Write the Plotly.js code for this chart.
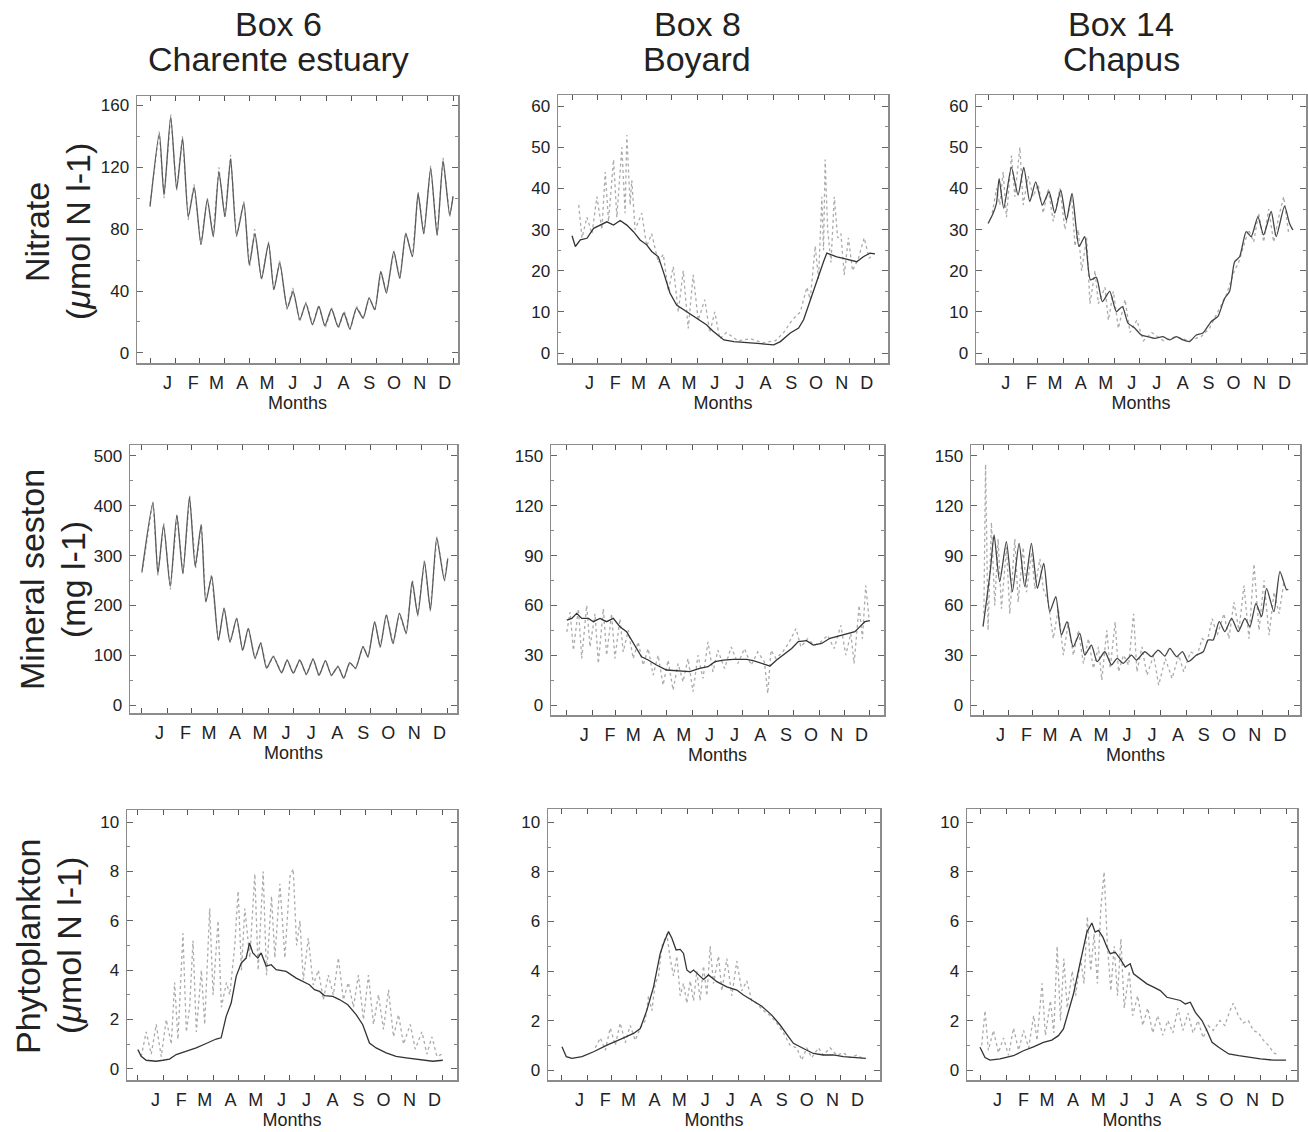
<!DOCTYPE html>
<html>
<head>
<meta charset="utf-8">
<script src="https://cdn.plot.ly/plotly-3.0.1.min.js"></script>
<style>html,body{margin:0;padding:0;background:#fff;}#chart{width:1308px;height:1132px;}</style>
</head>
<body>
<div id="chart"></div>
<script>
// ---------- shared axis labels ----------
const monthLabels = ['J','F','M','A','M','J','J','A','S','O','N','D'];
const monthLabelDays = [21,52,80,111,141,172,202,233,264,294,325,355];
const monthStartDays = [0,31,59,90,120,151,181,212,243,273,304,334,365];
const columnTitles = [['Box 6','Charente estuary'],['Box 8','Boyard'],['Box 14','Chapus']];
const rowTitles = [['Nitrate','(<i>μ</i>mol N l-1)'],['Mineral seston','(mg l-1)'],['Phytoplankton','(<i>μ</i>mol N l-1)']];
const xTitle = 'Months';
const yTicksNitrate6 = [0,40,80,120,160];
const yTicksNitrate = [0,10,20,30,40,50,60];
const yTicksSeston6 = [0,100,200,300,400,500];
const yTicksSeston = [0,30,60,90,120,150];
const yTicksPhyto = [0,2,4,6,8,10];

// ---------- Nitrate, Box 6 ----------
const nitrate6ModelDay = [0,11.2,16.8,24.9,32.1,39.3,46.1,53.3,61.4,69,76.2,83,90.3,97.1,104.3,113.1,119.5,126.4,134.4,142.8,149.2,156.4,165.3,172.5,180.5,187.7,195.7,203.4,210.6,218.6,226.6,233.5,240.7,248.7,256.7,263.9,270.8,278,284.8,293.6,300.8,308.1,316.1,322.9,329.7,338.1,345.8,353,361,365];
const nitrate6Model = [94.5,141.7,102,152.5,106,138.5,88,107,70,99,75,117,88,125.6,76,96.6,57,77,48,71,41,58,29,39.7,21.5,31.8,18.3,30,17.6,28.4,16.8,25.8,15.5,29,22.5,35.4,28,52.6,38.7,65.5,48.3,77,62.3,103,77,119,76,124,89,101];
const nitrate6ObsDay = [0,11,17,25,32,39,46,53,61,69,76,83,90,97,104,113,120,126,134,143,149,156,165,172,180,188,196,203,211,219,227,234,241,249,257,264,271,278,285,294,301,308,316,323,330,338,346,353,361,365];
const nitrate6Obs = [96,143,100,154,105,140,86,109,70,100,77,120,87,128,75,98,56,80,47,72,40,60,28,42,20,33,18,31,16,29,16,27,15,30,22,36,27,52,40,66,48,78,62,104,77,121,76,126,88,102];

// ---------- Nitrate, Box 8 ----------
const nitrate8ModelDay = [0,4,10,18,26,34,42,50,58,66,74,82,90,96,104,110,118,126,138,150,162,170,183,195,211,227,243,251,263,273,279,287,295,303,307,313,319,327,335,343,351,359,365];
const nitrate8Model = [28.5,25.9,27.5,27.9,30.3,31.1,31.9,31.1,32.2,31.1,29.5,27.5,26.3,24.7,23.4,19.8,14.6,11.7,10.1,8.7,6.9,5.3,3.2,2.8,2.6,2.3,2.0,2.8,4.9,6.1,8.1,12.9,17.8,22.2,24.3,23.8,23.4,23.0,22.6,22.2,23.4,24.3,24.1];
const nitrate8ObsDay = [8,12,18,24,30,36,40,44,50,54,60,64,66,70,72,76,84,90,96,104,110,116,122,128,134,140,146,152,160,166,172,178,186,200,215,230,245,255,265,275,283,287,293,297,301,303,305,308,312,316,320,324,328,333,338,345,352,358,362];
const nitrate8Obs = [36,28,33,29,38,30,44,32,47,33,50,34,53,36,42,30,34,26,29,22,24,15,21,10,20,6,19,8,13,5,10,3.5,5,3,3.5,2.5,3,5,8,10,16,13,26,18,38,25,47,30,22,38,28,29,19,28,20,23,28,23,24];

// ---------- Nitrate, Box 14 ----------
const nitrate14ModelDay = [0,6,10,13.2,18.7,27.9,35.9,42.7,49.9,57,65,73,79.8,87,93.7,100.5,108.9,115.7,122.5,129.6,136.8,145.6,153.6,160.8,167.5,175.5,183.5,191.5,199.4,209.4,217.4,225.4,233.3,241.3,249.3,257.3,267.3,275.2,283.2,289.2,295.2,301.2,309.1,315.1,323.1,329.9,339,345,355,361,365];
const nitrate14Model = [31.5,34,36.4,42.4,35.2,45.1,38.4,45.1,36.8,41.6,36,39.2,34,39.6,32.3,38.8,25.9,28.3,17.8,18.4,12.5,15,10.1,11.3,7.3,6.1,4.4,4.0,3.6,4.0,3.2,4.0,3.2,2.8,4.4,4.9,7.7,8.9,13.3,15,22.2,23.4,29.5,28.3,33.1,28.7,34.4,28.3,35.7,31.5,29.9];
const nitrate14ObsDay = [5,10,14,18,22,28,32,38,42,48,54,60,66,72,78,86,92,100,104,108,112,118,122,128,132,140,144,150,156,164,170,178,186,196,210,225,240,255,265,275,285,295,300,306,312,318,324,330,336,342,348,354,360];
const nitrate14Obs = [34,40,36,44,33,48,38,50,36,43,38,41,34,40,32,40,30,38,26,30,20,28,12,20,12,16,8,15,6,13,5,8,3,5,3,4,3,4,6,10,14,20,22,26,30,27,34,27,35,27,33,38,29];

// ---------- Mineral seston, Box 6 ----------
const seston6ModelDay = [0,13.1,19,25.8,33.7,41.6,48.8,56.7,63.5,70.6,76.2,83.3,91.2,98,105.1,113,120.2,126.9,134.9,141.6,148.7,156.7,166.6,173.3,180.5,188.4,196.3,204.3,211.4,219,226.1,234,240.8,247.9,255,263.8,269.7,277.7,284.4,291.6,299.5,307.4,315.4,322.5,329.2,337.2,344.3,351.8,360.9,365];
const seston6Model = [268,406,264,361,238,381,264,418,278,361,207,258,130,194,127,174,110,154,94,124,74,97,65,90,64,90,62,92,60,89,60,77,54,85,74,117,97,167,117,181,124,184,144,248,181,288,191,335,251,294];
const seston6ObsDay = [0,13,19,26,34,42,49,57,64,71,76,83,91,98,105,113,120,127,135,142,149,157,167,173,181,188,196,204,211,219,226,234,241,248,255,264,270,278,284,292,300,307,315,323,329,337,344,352,361,365];
const seston6Obs = [265,408,260,365,232,383,262,420,275,364,205,262,128,196,125,176,108,156,92,126,72,99,63,92,62,92,60,94,58,90,58,79,52,86,72,118,95,168,115,183,122,185,142,250,178,290,188,338,248,296];

// ---------- Mineral seston, Box 8 ----------
const seston8ModelDay = [0,6,12,18,26,32,40,48,56,64,72,80,90,98,108,120,132,148,160,170,178.5,188.5,200.6,216.6,224.6,234.7,244.7,252.7,262.7,270.8,278.8,288.8,296.8,306.9,316.9,326.9,337,347,353,359,365];
const seston8Model = [51.2,52.2,55.2,52.2,52.2,50.2,52.2,50.2,52.2,47.2,44.2,37.1,29.1,27.1,24.1,21.1,20.7,20.1,22.1,23.1,26.1,27.1,27.5,27.5,26.7,25.1,23.5,27.1,31.1,34.1,38.2,38.8,36.1,37.1,40.2,41.6,43.2,44.2,47.2,50.2,50.8];
const seston8ObsDay = [0,4,8,14,18,24,28,34,38,44,48,54,58,64,68,74,80,86,92,98,104,110,116,122,128,134,140,146,152,158,164,170,176,182,190,198,206,214,222,230,238,242,246,252,260,268,276,282,290,298,306,314,322,330,336,342,346,352,356,360,364];
const seston8Obs = [44,56,33,58,28,60,35,55,25,58,30,55,28,52,32,45,28,38,24,34,18,30,12,27,9,25,14,28,8,30,16,38,20,33,22,35,25,34,24,32,26,7,33,28,32,38,46,35,40,36,38,42,34,48,30,43,25,60,40,72,52];

// ---------- Mineral seston, Box 14 ----------
const seston14ModelDay = [0,4.8,8.8,13.2,19.9,27.9,35.1,43.1,49.9,57.8,65,72.6,79.8,87,93.7,100.5,107.7,115.7,121.7,129.6,136.4,145.6,153.6,160.4,167.5,177.5,183.5,193.5,201.4,209.4,217.4,223.4,231.4,238.5,245.3,255.3,263.3,269.2,275.2,282.4,289.2,297.2,305.1,313.1,319.1,326.3,333.1,339,347.8,355,363,365];
const seston14Model = [47.2,65.3,81.3,102.4,74.3,98.4,68.3,97.4,71.3,97.4,70.3,85.3,56.2,65.3,42.2,50.2,35.1,43.2,30.1,36.1,26.1,32.1,24.1,28.1,25.1,30.1,27.1,32.1,29.1,33.1,29.5,34.1,29.1,32.1,26.1,30.1,32.1,39.2,39.2,50.2,44.2,52.2,44.2,52.2,47.2,61.2,53.2,70.3,56.2,80.3,69.3,69.7];
const seston14ObsDay = [1,3,6,10,14,18,22,28,32,38,42,48,52,58,62,68,72,78,84,90,96,102,108,114,120,126,132,138,142,148,152,158,162,168,174,180,184,190,196,204,210,218,226,234,240,248,256,262,268,274,280,288,294,300,306,312,318,324,330,336,342,348,354,360];
const seston14Obs = [55,145,45,110,60,100,58,95,55,100,62,95,68,92,70,88,70,62,40,58,30,50,30,45,25,40,22,35,15,45,22,50,20,30,24,55,20,35,18,30,12,28,16,30,20,32,30,40,38,52,42,55,40,62,45,72,40,85,45,75,42,68,55,75];

// ---------- Phytoplankton, Box 6 ----------
const phyto6ModelDay = [0,4,10,21.9,29.9,37.9,45.9,57.8,69.8,81.8,93.7,99.7,105.7,111.7,117.7,123.7,129.6,133.6,137.6,143.6,147.6,153.6,159.6,165.5,177.5,189.5,197.4,205.4,211.4,217.4,223.4,233.3,241.3,251.3,261.3,269.2,277.2,285.2,297.2,309.1,321.1,333.1,345,353,365];
const phyto6Model = [0.78,0.51,0.35,0.31,0.35,0.40,0.58,0.72,0.85,1.03,1.21,1.26,2.13,2.67,3.75,4.29,4.49,5.10,4.70,4.49,4.70,4.16,4.22,4.02,3.95,3.68,3.55,3.41,3.21,3.14,2.97,2.94,2.81,2.60,2.20,1.79,1.05,0.85,0.65,0.51,0.45,0.40,0.35,0.31,0.35];
const phyto6ObsDay = [4,10,16,22,28,34,40,44,48,54,58,62,66,70,76,80,86,90,96,100,106,110,116,120,124,128,134,140,144,150,154,160,164,170,176,182,186,190,194,198,204,210,216,222,228,234,240,246,252,258,264,270,276,282,288,294,300,306,312,318,326,332,340,346,352,358,364];
const phyto6Obs = [0.5,1.5,0.6,1.8,0.5,2.0,1.0,3.5,1.2,5.5,1.5,2.5,5.2,1.5,4.0,1.8,6.5,3.0,6.0,2.5,3.5,3.0,5.0,7.2,4.0,6.5,4.5,7.9,4.0,8.0,3.8,7.0,4.5,7.5,4.5,7.8,8.1,5.0,6.0,3.6,5.3,3.4,4.0,2.8,3.8,3.0,4.5,2.8,3.5,2.5,3.8,2.0,3.8,1.8,3.0,1.6,3.2,1.3,2.2,1.0,1.8,0.8,1.5,0.6,1.3,0.5,0.6];

// ---------- Phytoplankton, Box 8 ----------
const phyto8ModelDay = [0,5.2,12,24,38,54,70,86,94,102,110,118,122.8,128,132,137.1,142,146,150,154,158,164,170,176,186,198,210,218,228,240,252,262,272,278,290,302,314,326,338,352,365];
const phyto8Model = [0.94,0.54,0.47,0.54,0.74,1.01,1.24,1.48,1.68,2.42,3.36,4.71,5.18,5.59,5.32,4.85,4.87,4.71,4.04,3.93,4.04,3.84,3.66,3.84,3.57,3.36,3.23,3.03,2.83,2.58,2.22,1.82,1.35,1.08,0.87,0.67,0.61,0.61,0.54,0.51,0.47];
const phyto8ObsDay = [40,46,52,58,64,70,76,82,88,94,100,104,108,112,116,120,126,130,134,138,142,146,150,154,158,162,166,170,174,178,182,188,192,198,204,210,216,222,228,234,242,250,258,266,274,282,288,294,300,308,314,322,330,338,346,354,360];
const phyto8Obs = [0.9,1.3,0.8,1.7,1.0,1.9,1.1,1.8,1.2,1.7,2.0,3.0,2.4,3.5,3.8,5.0,5.5,4.5,3.8,4.6,3.0,3.5,2.7,3.6,2.8,4.0,2.8,4.2,3.0,5.0,3.5,4.6,3.2,4.5,3.0,4.4,3.2,3.6,2.8,2.7,2.4,2.2,1.9,1.5,1.0,0.9,0.4,0.9,0.5,0.9,0.6,0.9,0.6,0.7,0.5,0.6,0.5];

// ---------- Phytoplankton, Box 14 ----------
const phyto14ModelDay = [0,6,11.9,23.9,39.8,51.8,63.7,75.6,85.6,93.5,99.5,105.5,111.5,117.4,122.6,127.4,133.4,137.3,141.3,146.5,151.3,155.3,161.2,167.2,173.2,179.1,183.1,191.1,199,207,215,222.9,230.9,238.9,244.8,250.8,256.8,264.7,270.7,276.7,284.6,296.6,308.5,320.5,334.4,350.3,365];
const phyto14Model = [0.92,0.51,0.40,0.45,0.58,0.78,0.94,1.12,1.21,1.39,1.66,2.33,3.08,4.02,4.90,5.57,5.94,5.57,5.64,5.37,4.97,4.70,4.76,4.49,4.16,4.29,3.89,3.68,3.48,3.35,3.21,2.94,2.87,2.81,2.67,2.74,2.33,2.00,1.59,1.12,0.92,0.65,0.58,0.51,0.45,0.40,0.40];
const phyto14ObsDay = [2,6,10,16,22,28,34,40,46,52,58,64,68,74,78,84,88,92,96,100,104,110,114,120,124,128,132,136,140,144,148,152,156,160,164,168,172,178,182,188,194,200,206,212,218,224,230,236,242,248,254,260,266,272,278,286,292,298,302,308,314,320,326,332,338,344,350,356];
const phyto14Obs = [1.0,2.4,0.8,1.6,0.7,1.3,0.6,1.7,0.8,1.6,0.9,2.2,1.2,3.5,1.4,2.8,1.5,5.0,2.0,4.5,2.5,4.0,3.0,4.5,3.5,6.2,4.0,5.5,3.5,6.5,8.0,5.0,3.2,5.0,3.0,5.3,2.5,4.0,2.2,3.0,1.8,2.5,1.5,2.2,1.4,2.0,1.5,2.5,1.6,2.3,1.5,2.0,1.3,1.8,1.6,2.0,1.8,2.4,2.7,2.2,1.9,2.0,1.6,1.5,1.2,1.0,0.7,0.6];

// ---------- figure assembly ----------
const W = 1308, H = 1132;
const FONT = 'Liberation Sans, Arial, Helvetica, sans-serif';

const panels = [
  {md:nitrate6ModelDay, m:nitrate6Model, od:nitrate6ObsDay, o:nitrate6Obs, box:[137,458,96,363], xr:[-15.7,371], yr:[-6.5,166], yt:yTicksNitrate6, ymin:20, spline:true, mc:'#5a5a5a'},
  {md:nitrate8ModelDay, m:nitrate8Model, od:nitrate8ObsDay, o:nitrate8Obs, box:[558,888,95,363], xr:[-16.9,380.7], yr:[-2.4,62.7], yt:yTicksNitrate, ymin:5, spline:false, mc:'#333'},
  {md:nitrate14ModelDay, m:nitrate14Model, od:nitrate14ObsDay, o:nitrate14Obs, box:[976,1306,95,363], xr:[-14.5,380.7], yr:[-2.4,62.7], yt:yTicksNitrate, ymin:5, spline:true, mc:'#444'},
  {md:seston6ModelDay, m:seston6Model, od:seston6ObsDay, o:seston6Obs, box:[130,457,445,713], xr:[-14.3,376], yr:[-16,522], yt:yTicksSeston6, ymin:50, spline:true, mc:'#5a5a5a'},
  {md:seston8ModelDay, m:seston8Model, od:seston8ObsDay, o:seston8Obs, box:[551,884,445,715], xr:[-19,382], yr:[-6,156.6], yt:yTicksSeston, ymin:15, spline:false, mc:'#333'},
  {md:seston14ModelDay, m:seston14Model, od:seston14ObsDay, o:seston14Obs, box:[971,1300,445,715], xr:[-14.4,379], yr:[-6,156.6], yt:yTicksSeston, ymin:15, spline:true, mc:'#444'},
  {md:phyto6ModelDay, m:phyto6Model, od:phyto6ObsDay, o:phyto6Obs, box:[127,457,810,1080], xr:[-13,382], yr:[-0.45,10.49], yt:yTicksPhyto, ymin:1, spline:false, mc:'#333'},
  {md:phyto8ModelDay, m:phyto8Model, od:phyto8ObsDay, o:phyto8Obs, box:[548,880,809,1080], xr:[-16.8,382], yr:[-0.4,10.54], yt:yTicksPhyto, ymin:1, spline:false, mc:'#333'},
  {md:phyto14ModelDay, m:phyto14Model, od:phyto14ObsDay, o:phyto14Obs, box:[967,1297,809,1080], xr:[-15.5,378], yr:[-0.4,10.54], yt:yTicksPhyto, ymin:1, spline:false, mc:'#333'}
];

const data = [];
const layout = {
  width: W, height: H,
  margin: {l:0, r:0, t:0, b:0},
  paper_bgcolor: '#fff', plot_bgcolor: '#fff',
  showlegend: false,
  font: {family: FONT, color: '#222'},
  annotations: []
};

panels.forEach((p, i) => {
  const n = i + 1;
  const xa = 'x' + (n === 1 ? '' : n), ya = 'y' + (n === 1 ? '' : n);
  data.push({x: p.od, y: p.o, xaxis: xa, yaxis: ya, mode: 'lines', type: 'scatter',
    line: {color: '#ababab', width: 1.3, dash: 'dot'}, hoverinfo: 'skip'});
  data.push({x: p.md, y: p.m, xaxis: xa, yaxis: ya, mode: 'lines', type: 'scatter',
    line: {color: p.mc, width: 1.3, shape: p.spline ? 'spline' : 'linear', smoothing: 0.6}, hoverinfo: 'skip'});
  const [l, r, t, b] = p.box;
  layout['xaxis' + (n === 1 ? '' : n)] = {
    domain: [l / W, r / W], range: p.xr, anchor: ya,
    tickmode: 'array', tickvals: monthLabelDays, ticktext: monthLabels,
    ticks: 'inside', ticklen: 0, tickcolor: '#fff',
    showline: true, linecolor: '#8c8c8c', linewidth: 1.5, mirror: 'allticks',
    showgrid: false, zeroline: false,
    tickfont: {family: FONT, size: 18, color: '#222'},
    ticklabelstandoff: 3,
    minor: {tickmode: 'array', tickvals: monthStartDays, ticks: 'inside', ticklen: 5, tickcolor: '#555', tickwidth: 1, showgrid: false},
    title: {text: xTitle, font: {family: FONT, size: 18, color: '#222'}, standoff: 4}
  };
  layout['yaxis' + (n === 1 ? '' : n)] = {
    domain: [1 - b / H, 1 - t / H], range: p.yr, anchor: xa,
    tickmode: 'array', tickvals: p.yt,
    ticks: 'inside', ticklen: 6, tickcolor: '#666', tickwidth: 1,
    showline: true, linecolor: '#8c8c8c', linewidth: 1.5, mirror: 'allticks',
    showgrid: false, zeroline: false,
    tickfont: {family: FONT, size: 17, color: '#222'},
    ticklabelstandoff: 3,
    minor: {dtick: p.ymin, ticks: 'inside', ticklen: 3, tickcolor: '#888', showgrid: false}
  };
});

// column titles
const colCenters = [278, 697, 1121];
columnTitles.forEach((lines, c) => {
  layout.annotations.push({text: lines[0], xref: 'paper', yref: 'paper', x: colCenters[c] / W, y: 1 - 24 / H,
    showarrow: false, xanchor: 'center', yanchor: 'middle', font: {family: FONT, size: 34, color: '#222'}});
  layout.annotations.push({text: lines[1], xref: 'paper', yref: 'paper', x: colCenters[c] / W, y: 1 - 59 / H,
    showarrow: false, xanchor: 'center', yanchor: 'middle', font: {family: FONT, size: 34, color: '#222'}});
});
// row titles
const rowY = [232, 580, 946];
const rowX = [[37, 78], [32, 73], [28, 69]];
rowTitles.forEach((lines, r) => {
  lines.forEach((txt, k) => {
    layout.annotations.push({text: txt, xref: 'paper', yref: 'paper', x: rowX[r][k] / W, y: 1 - rowY[r] / H,
      showarrow: false, xanchor: 'center', yanchor: 'middle', textangle: -90,
      font: {family: FONT, size: 34, color: '#222'}});
  });
});

Plotly.newPlot('chart', data, layout, {staticPlot: true});
</script>
</body>
</html>
